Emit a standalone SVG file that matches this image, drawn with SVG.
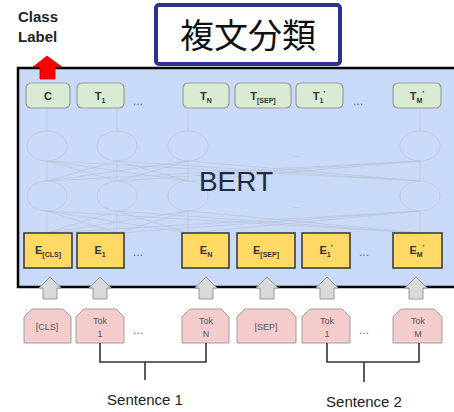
<svg xmlns="http://www.w3.org/2000/svg" width="454" height="412" viewBox="0 0 454 412">
<defs>
<style>
.t{font-family:"Liberation Sans",Arial,sans-serif;fill:#222}
.tbox{fill:#d9ead3;stroke:#9a9a9a;stroke-width:1.2}
.ebox{fill:#ffd966;stroke:#333;stroke-width:1.5}
.tok{fill:#f4cccc;stroke:#a0a0a0;stroke-width:1}
.garr{fill:#d9d9d9;stroke:#999;stroke-width:1}
.net{fill:none;stroke:#b9c3d6;stroke-width:0.7}
.br{fill:none;stroke:#333;stroke-width:1.6}
.dots{font-family:"Liberation Sans",Arial,sans-serif;font-size:12px;fill:#5566aa}
.lbl{font-family:"Liberation Sans",Arial,sans-serif;font-size:11px;font-weight:bold;fill:#333;text-anchor:middle}
.sub{font-size:7px}
.tk{font-family:"Liberation Sans",Arial,sans-serif;font-size:9px;fill:#555;text-anchor:middle}
</style>
</defs>
<rect width="454" height="412" fill="#fff"/>

<g id="title">
<rect x="156" y="5" width="184" height="59" rx="3" fill="#fff" stroke="#2e3192" stroke-width="4"/>
<text x="248" y="48" font-family="'Noto Sans CJK JP','Noto Sans CJK SC',sans-serif" font-size="34" fill="#111" text-anchor="middle">複文分類</text>
</g>

<g id="classlabel">
<text class="t" x="18" y="22" font-size="15" font-weight="bold" fill="#3a3a4a">Class</text>
<text class="t" x="18" y="42" font-size="15" font-weight="bold" fill="#3a3a4a">Label</text>
</g>

<g id="bert">
<rect x="18" y="68" width="440" height="219" fill="#c9daf8" stroke="#000" stroke-width="2.5"/>
<g class="net">
<ellipse cx="47" cy="146" rx="20" ry="15"/>
<ellipse cx="117" cy="146" rx="20" ry="15"/>
<ellipse cx="188" cy="146" rx="20" ry="15"/>
<ellipse cx="420" cy="146" rx="20" ry="15"/>
<ellipse cx="47" cy="196" rx="20" ry="15"/>
<ellipse cx="117" cy="196" rx="20" ry="15"/>
<ellipse cx="188" cy="196" rx="20" ry="15"/>
<ellipse cx="420" cy="196" rx="20" ry="15"/>
<path d="M47 108V131M117 108V131M188 108V131M420 108V131"/>
<path d="M47 161L47 181M47 161L117 181M47 161L188 181M47 161L420 181M117 161L47 181M117 161L117 181M117 161L188 181M117 161L420 181M188 161L47 181M188 161L117 181M188 161L188 181M188 161L420 181M420 161L47 181M420 161L117 181M420 161L188 181M420 161L420 181"/>
<path d="M47 211L47 233M47 211L117 233M47 211L188 233M47 211L420 233M117 211L47 233M117 211L117 233M117 211L188 233M117 211L420 233M188 211L47 233M188 211L117 233M188 211L188 233M188 211L420 233M420 211L47 233M420 211L117 233M420 211L188 233M420 211L420 233"/>
</g>
<text x="293" y="157" font-family="Liberation Sans,sans-serif" font-size="8" fill="#aab4c8">...</text>
<text x="293" y="208" font-family="Liberation Sans,sans-serif" font-size="8" fill="#aab4c8">...</text>
<text x="236" y="191" font-family="'Liberation Sans',Arial,sans-serif" font-size="28" fill="#1f2a44" text-anchor="middle">BERT</text>
</g>

<g id="arrow-red">
<path d="M47 56L62 67H55V79H40V67H33Z" fill="#ff0000" stroke="#cc0000" stroke-width="0.8"/>
</g>

<g id="t-row">
<g id="t-c"><rect class="tbox" x="26" y="83" width="44" height="25" rx="5"/><text class="lbl" x="48" y="100">C</text></g>
<g id="t-1"><rect class="tbox" x="77" y="83" width="47" height="25" rx="5"/><text class="lbl" x="100" y="100">T<tspan class="sub" dy="3">1</tspan></text></g>
<text class="dots" x="133" y="105">...</text>
<g id="t-n"><rect class="tbox" x="183" y="83" width="46" height="25" rx="5"/><text class="lbl" x="206" y="100">T<tspan class="sub" dy="3">N</tspan></text></g>
<g id="t-sep"><rect class="tbox" x="235" y="83" width="56" height="25" rx="5"/><text class="lbl" x="263" y="100">T<tspan class="sub" dy="3">[SEP]</tspan></text></g>
<g id="t-1p"><rect class="tbox" x="296" y="83" width="47" height="25" rx="5"/><text class="lbl" x="319" y="100">T<tspan class="sub" dy="3">1</tspan><tspan class="sub" dy="-7">’</tspan></text></g>
<text class="dots" x="353" y="105">...</text>
<g id="t-mp"><rect class="tbox" x="393" y="83" width="48" height="25" rx="5"/><text class="lbl" x="417" y="100">T<tspan class="sub" dy="3">M</tspan><tspan class="sub" dy="-7">’</tspan></text></g>
</g>

<g id="e-row">
<g id="e-cls"><rect class="ebox" x="24" y="233" width="48" height="35"/><text class="lbl" x="48" y="254">E<tspan class="sub" dy="3">[CLS]</tspan></text></g>
<g id="e-1"><rect class="ebox" x="77" y="233" width="47" height="35"/><text class="lbl" x="100" y="254">E<tspan class="sub" dy="3">1</tspan></text></g>
<text class="dots" x="133" y="256">...</text>
<g id="e-n"><rect class="ebox" x="182" y="233" width="47" height="35"/><text class="lbl" x="206" y="254">E<tspan class="sub" dy="3">N</tspan></text></g>
<g id="e-sep"><rect class="ebox" x="237" y="233" width="58" height="35"/><text class="lbl" x="266" y="254">E<tspan class="sub" dy="3">[SEP]</tspan></text></g>
<g id="e-1p"><rect class="ebox" x="302" y="233" width="48" height="35"/><text class="lbl" x="326" y="254">E<tspan class="sub" dy="3">1</tspan><tspan class="sub" dy="-7">’</tspan></text></g>
<text class="dots" x="359" y="256">...</text>
<g id="e-mp"><rect class="ebox" x="393" y="233" width="49" height="35"/><text class="lbl" x="417" y="254">E<tspan class="sub" dy="3">M</tspan><tspan class="sub" dy="-7">’</tspan></text></g>
</g>

<g id="up-arrows">
<path class="garr" d="M50 277L61 288H57V299H43V288H39Z"/>
<path class="garr" d="M100 277L111 288H107V299H93V288H89Z"/>
<path class="garr" d="M206 277L217 288H213V299H199V288H195Z"/>
<path class="garr" d="M267 277L278 288H274V299H260V288H256Z"/>
<path class="garr" d="M327 277L338 288H334V299H320V288H316Z"/>
<path class="garr" d="M416 277L427 288H423V299H409V288H405Z"/>
</g>

<g id="tok-row">
<g id="tok-cls"><path class="tok" d="M24 343V317L32 309H63L71 317V343Z"/><text class="tk" x="47" y="330">[CLS]</text></g>
<g id="tok-1"><path class="tok" d="M76 343V317L84 309H116L124 317V343Z"/><text class="tk" x="100" y="324">Tok</text><text class="tk" x="100" y="337">1</text></g>
<text class="dots" x="133" y="334">...</text>
<g id="tok-n"><path class="tok" d="M182 343V317L190 309H221L229 317V343Z"/><text class="tk" x="206" y="324">Tok</text><text class="tk" x="206" y="337">N</text></g>
<g id="tok-sep"><path class="tok" d="M237 343V317L245 309H288L296 317V343Z"/><text class="tk" x="266" y="330">[SEP]</text></g>
<g id="tok-1p"><path class="tok" d="M302 343V317L310 309H342L350 317V343Z"/><text class="tk" x="327" y="324">Tok</text><text class="tk" x="327" y="337">1</text></g>
<text class="dots" x="359" y="334">...</text>
<g id="tok-m"><path class="tok" d="M393 343V317L401 309H434L442 317V343Z"/><text class="tk" x="418" y="324">Tok</text><text class="tk" x="418" y="337">M</text></g>
</g>

<g id="connectors">
<path class="br" d="M100 343V362H206V343M145 362V380"/>
<path class="br" d="M327 343V362H419V343M364 362V382"/>
</g>

<g id="sentences">
<text class="t" x="145" y="405" font-size="15" text-anchor="middle" fill="#2a2a3a">Sentence 1</text>
<text class="t" x="364" y="407" font-size="15" text-anchor="middle" fill="#2a2a3a">Sentence 2</text>
</g>
</svg>
